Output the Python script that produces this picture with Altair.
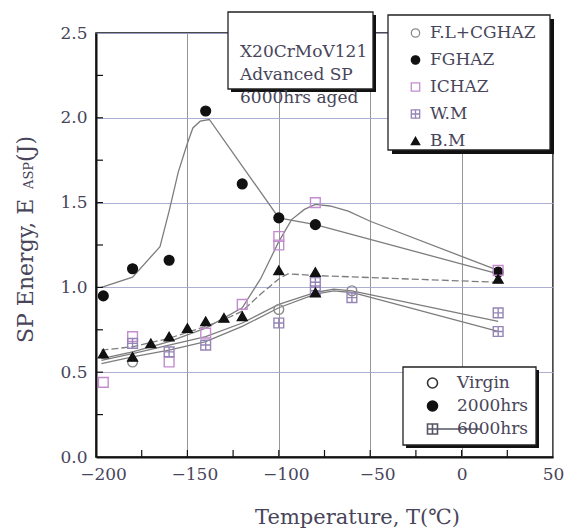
import altair as alt
import pandas as pd

W, H = 457, 424
FONT = "DejaVu Serif"
TXT = "#48455a"

zones = ["F.L+CGHAZ", "FGHAZ", "ICHAZ", "W.M", "B.M"]
CROSS_SQ = "M-1,-1H1V1H-1Z M-1,0H1 M0,-1V1"
zone_shapes = ["circle", "circle", "square", CROSS_SQ, "triangle-up"]
zone_fill = ["transparent", "#111111", "transparent", "transparent", "#111111"]
zone_stroke = ["#8c8c8c", "#111111", "#c48ccf", "#9584b6", "#111111"]

aging = ["Virgin", "2000hrs", "6000hrs"]
aging_shapes = ["circle", "circle", "M-1,-1H1V1H-1Z M-1,0H1 M0,-1V1 M1,0H9.5"]
aging_fill = ["transparent", "#111111", "transparent"]
aging_stroke = ["#333333", "#111111", "#555566"]

# measured points
fl_T = [-180, -100, -60]
fl_E = [0.56, 0.87, 0.98]
fg_T = [-196, -180, -160, -140, -120, -100, -80, 20]
fg_E = [0.95, 1.11, 1.16, 2.04, 1.61, 1.41, 1.37, 1.09]
ic_T = [-196, -180, -160, -140, -120, -100, -100, -80, 20]
ic_E = [0.44, 0.71, 0.56, 0.73, 0.90, 1.30, 1.25, 1.50, 1.10]
wm_T = [-180, -160, -140, -100, -80, -80, -60, 20, 20]
wm_E = [0.67, 0.62, 0.66, 0.79, 1.03, 0.98, 0.94, 0.85, 0.74]
bm_T = [-196, -180, -170, -160, -150, -140, -130, -120, -100, -80, -80, 20]
bm_E = [0.61, 0.59, 0.67, 0.71, 0.76, 0.80, 0.82, 0.83, 1.10, 1.09, 0.97, 1.05]

# fitted curves
fgl_T = [-197, -180, -165, -160, -155, -150, -147, -143, -138, -100, -80, 20]
fgl_E = [1.00, 1.06, 1.24, 1.45, 1.68, 1.85, 1.94, 1.98, 1.99, 1.41, 1.37, 1.08]
icl_T = [-197, -180, -160, -140, -120, -110, -100, -93, -86, -80, -72, -62, -50, 20]
icl_E = [0.58, 0.62, 0.68, 0.76, 0.88, 1.05, 1.27, 1.40, 1.46, 1.49, 1.48, 1.45, 1.39, 1.10]
bml_T = [-197, -180, -160, -140, -130, -120, -110, -100, -95, -80, 20]
bml_E = [0.63, 0.65, 0.70, 0.77, 0.81, 0.86, 0.96, 1.05, 1.08, 1.07, 1.03]
wml_T = [-197, -180, -160, -140, -120, -100, -80, -70, -60, 20]
wml_E = [0.57, 0.61, 0.66, 0.71, 0.79, 0.90, 0.97, 0.99, 0.98, 0.80]
fll_T = [-197, -180, -160, -140, -120, -100, -80, -70, -60, 20]
fll_E = [0.55, 0.59, 0.63, 0.68, 0.77, 0.88, 0.96, 0.98, 0.97, 0.74]

x_ticks = [-175, -150, -125, -100, -75, -50, -25, 0, 25]
y_ticks = [0.25, 0.5, 0.75, 1.0, 1.25, 1.5, 1.75, 2.0, 2.25]
x_labels = [-200, -150, -100, -50, 0, 50]
y_labels = [0.0, 0.5, 1.0, 1.5, 2.0, 2.5]

note_lines = "X20CrMoV121\nAdvanced SP\n6000hrs aged"

pt_rows = []
for z, T, E in [("F.L+CGHAZ", fl_T, fl_E), ("FGHAZ", fg_T, fg_E), ("ICHAZ", ic_T, ic_E),
                ("W.M", wm_T, wm_E), ("B.M", bm_T, bm_E)]:
    for t, e in zip(T, E):
        pt_rows.append({"zone": z, "T": t, "E": e})
pts = pd.DataFrame(pt_rows)

ln_rows = []
for z, T, E in [("F.L+CGHAZ", fll_T, fll_E), ("FGHAZ", fgl_T, fgl_E), ("ICHAZ", icl_T, icl_E),
                ("W.M", wml_T, wml_E), ("B.M", bml_T, bml_E)]:
    for i, (t, e) in enumerate(zip(T, E)):
        ln_rows.append({"zone": z, "T": t, "E": e, "i": i})
lns = pd.DataFrame(ln_rows)

xt = pd.DataFrame({"T": x_ticks})
yt = pd.DataFrame({"E": y_ticks})
one = pd.DataFrame({"k": [0]})
ag = pd.DataFrame({"aging": aging})

xaxis = alt.Axis(values=x_labels, ticks=False, grid=True, gridColor="#8a8a8a", gridWidth=0.9,
                 domainColor="#111", domainWidth=2, labelFont=FONT, labelFontSize=17,
                 labelColor=TXT, labelPadding=9, labelFlush=False,
                 labelOffset={"condition": {"test": "datum.value < 0", "value": 7}, "value": 0},
                 title="Temperature, T(℃)", titleFont=FONT, titleFontSize=21,
                 titleFontWeight="normal", titleColor=TXT, titleX=261, titleY=66,
                 titleAlign="center", titleBaseline="alphabetic")
yaxis = alt.Axis(values=y_labels, format=".1f", ticks=False, grid=True, gridColor="#a3a6cc",
                 gridWidth=0.9, domainColor="#111", domainWidth=2, labelFont=FONT,
                 labelFontSize=17, labelColor=TXT, labelPadding=9, title=None)

X = alt.X("T:Q", scale=alt.Scale(domain=[-200, 50], nice=False), axis=xaxis)
Y = alt.Y("E:Q", scale=alt.Scale(domain=[0, 2.5], nice=False), axis=yaxis)

lines_solid = alt.Chart(lns).transform_filter("datum.zone != 'B.M'").mark_line(
    color="#7d7d7d", strokeWidth=1.3).encode(x=X, y=Y, detail="zone:N", order="i:Q")
lines_bm = alt.Chart(lns).transform_filter("datum.zone == 'B.M'").mark_line(
    color="#7d7d7d", strokeWidth=1.3, strokeDash=[7, 3]).encode(x=X, y=Y, order="i:Q")

ticks_x = alt.Chart(xt).mark_rule(color="#111", strokeWidth=1.2).encode(
    x=X, y=alt.value(H), y2=alt.value(H - 7))
ticks_y = alt.Chart(yt).mark_rule(color="#111", strokeWidth=1.2).encode(
    y=Y, x=alt.value(0), x2=alt.value(7))

leg1 = alt.Legend(orient="none", legendX=311, legendY=-8.5, title=None, padding=0,
                  labelOffset=6, rowPadding=9, symbolSize=70, symbolStrokeWidth=1.3,
                  labelFont=FONT, labelFontSize=17, labelColor=TXT, labelLimit=400,
                  symbolOpacity=1)
points = alt.Chart(pts).mark_point(filled=True, size=95, strokeWidth=1.4, opacity=1).encode(
    x=X, y=Y,
    shape=alt.Shape("zone:N", scale=alt.Scale(domain=zones, range=zone_shapes), legend=leg1),
    fill=alt.Fill("zone:N", scale=alt.Scale(domain=zones, range=zone_fill), legend=leg1),
    stroke=alt.Stroke("zone:N", scale=alt.Scale(domain=zones, range=zone_stroke), legend=leg1),
)

leg2 = alt.Legend(orient="none", legendX=328, legendY=341.5, title=None, padding=0,
                  labelOffset=16, rowPadding=5, symbolSize=100, symbolStrokeWidth=1.6,
                  labelFont=FONT, labelFontSize=17, labelColor=TXT, labelLimit=400,
                  symbolOpacity=1)
dummy = alt.Chart(ag).mark_point(filled=True, opacity=0, size=0).encode(
    shape=alt.Shape("aging:N", scale=alt.Scale(domain=aging, range=aging_shapes), legend=leg2),
    fill=alt.Fill("aging:N", scale=alt.Scale(domain=aging, range=aging_fill), legend=leg2),
    stroke=alt.Stroke("aging:N", scale=alt.Scale(domain=aging, range=aging_stroke), legend=leg2),
)


def box(x0, y0, x1, y1, sh=3):
    shadow = alt.Chart(one).mark_rect(color="#111").encode(
        x=alt.value(x0 + sh), x2=alt.value(x1 + sh), y=alt.value(y0 + sh), y2=alt.value(y1 + sh))
    face = alt.Chart(one).mark_rect(fill="white", stroke="#222", strokeWidth=1.3).encode(
        x=alt.value(x0), x2=alt.value(x1), y=alt.value(y0), y2=alt.value(y1))
    return [shadow, face]


boxes = box(132, -21, 277, 56) + box(292, -18, 454, 117, 4) + box(307, 334, 440, 412)

note = alt.Chart(one).mark_text(font=FONT, fontSize=17, color=TXT, align="left",
                                baseline="middle", lineBreak="\n", lineHeight=23).encode(
    x=alt.value(144), y=alt.value(19), text=alt.value(note_lines))

yt1 = alt.Chart(one).mark_text(font=FONT, fontSize=22, color=TXT, align="left",
                               baseline="alphabetic", angle=270).encode(
    x=alt.value(-63), y=alt.value(310), text=alt.value("SP Energy, E"))
yt2 = alt.Chart(one).mark_text(font=FONT, fontSize=13, color=TXT, align="left",
                               baseline="alphabetic", angle=270).encode(
    x=alt.value(-63), y=alt.value(156), text=alt.value("ASP"))
yt3 = alt.Chart(one).mark_text(font=FONT, fontSize=22, color=TXT, align="left",
                               baseline="alphabetic", angle=270).encode(
    x=alt.value(-63), y=alt.value(129), text=alt.value("(J)"))

chart = alt.layer(
    lines_solid, lines_bm, ticks_x, ticks_y, points, *boxes, note, yt1, yt2, yt3, dummy
).resolve_scale(shape="independent", fill="independent", stroke="independent").properties(
    width=W, height=H, autosize=alt.AutoSizeParams(type="none"),
    padding={"left": 96, "top": 33, "right": 11, "bottom": 72},
    background="white",
).configure_view(stroke="#111", strokeWidth=1.5)

chart.save("out.html", embed_options={"renderer": "svg", "actions": False})
